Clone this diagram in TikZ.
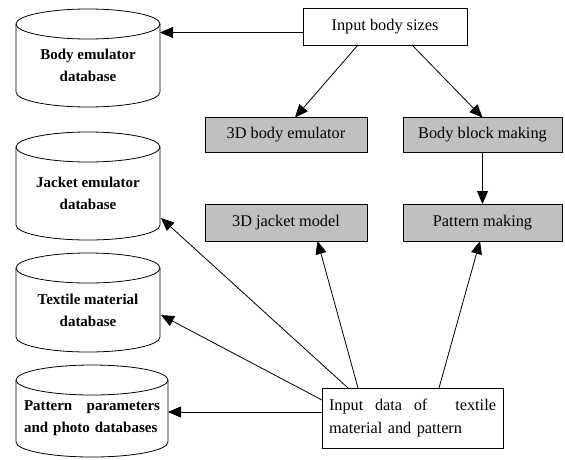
\documentclass[tikz,border=0pt]{standalone}
\usepackage{fontspec}
\setmainfont{Liberation Serif}
\usetikzlibrary{arrows.meta}
\definecolor{boxgray}{RGB}{192, 192, 192}

\tikzset{
  box/.style={draw, fill=white, inner sep=0pt, outer sep=0pt,
    font=\fontsize{16.3}{22.5}\selectfont},
  graybox/.style={box, fill=boxgray},
  dbbox/.style={inner sep=0pt, outer sep=0pt},
  dbtext/.style={font=\bfseries\fontsize{15}{22}\selectfont, align=center},
  flow/.style={-{Triangle[length=13pt,width=11pt]}}
}

\begin{document}
\begin{tikzpicture}[x=1pt, y=-1pt, line width=0.8pt]
    \useasboundingbox (0,0) rectangle (565,459);

    % cajas de la derecha
    \node[box, minimum width=164pt, minimum height=37pt] (sizes) at (385,26.5) {Input body sizes};
    \node[graybox, minimum width=162pt, minimum height=35pt] (bodyemu) at (286,135) {3D body emulator};
    \node[graybox, minimum width=159pt, minimum height=35pt] (blockmaking) at (482.5,135) {Body block making};
    \node[graybox, minimum width=162pt, minimum height=37pt] (jacketmodel) at (286,222.5) {3D jacket model};
    \node[graybox, minimum width=159pt, minimum height=37pt] (patternmaking) at (482.5,222.5) {Pattern making};
    \node[box, minimum width=181pt, minimum height=60pt, text width=167pt, align=left] (inputdata) at (412.5,418)
        {Input\hfill data\hfill of\hfill\hspace{1em}textile\\material and pattern};

    % bases de datos (cilindros)
    \node[dbbox, minimum width=144pt, minimum height=68pt] (bodydb) at (88,58) {};
    \node[dbbox, minimum width=144pt, minimum height=78pt] (jacketdb) at (88,186) {};
    \node[dbbox, minimum width=144pt, minimum height=69pt] (textiledb) at (88,302.5) {};
    \node[dbbox, minimum width=152pt, minimum height=62pt] (patterndb) at (92,411) {};

    \foreach \db/\r in {bodydb/72, jacketdb/72, textiledb/72, patterndb/76} {
        \draw (\db.north west) -- (\db.south west)
            arc[start angle=180, end angle=360, x radius=\r pt, y radius=15pt] -- (\db.north east);
        \draw (\db.north) ellipse [x radius=\r pt, y radius=15pt];
    }

    \node[dbtext] (bodydbtext) at ([yshift=-7.5pt]bodydb.center) {Body emulator\\database};
    \node[dbtext] (jacketdbtext) at ([yshift=-7.5pt]jacketdb.center) {Jacket emulator\\database};
    \node[dbtext] (textiledbtext) at ([yshift=-7.5pt]textiledb.center) {Textile material\\database};
    \node[dbtext, text width=136pt, align=left] (patterndbtext) at ([yshift=-7.5pt]patterndb.center)
        {Pattern\hfill parameters\\and photo databases};

    % flechas desde Input body sizes
    \coordinate (s1) at ([yshift=-6pt]sizes.west);
    \draw[flow] (s1) -- (s1 -| bodydb.east);
    \draw[flow] ([xshift=-27pt]sizes.south) -- ([xshift=9pt]bodyemu.north);
    \draw[flow] ([xshift=27pt]sizes.south) -- (blockmaking.north);
    \draw[flow] (blockmaking.south) -- (patternmaking.north);

    % flechas desde Input data
    \draw[flow] ([xshift=-54.5pt]inputdata.north) -- ([xshift=31.5pt]jacketmodel.south);
    \draw[flow] ([xshift=26.5pt]inputdata.north) -- ([xshift=-2.5pt]patternmaking.south);
    \draw[flow] ([xshift=-64.5pt]inputdata.north) -- ([xshift=1pt, yshift=-32pt]jacketdb.east);
    \draw[flow] ([yshift=18pt]inputdata.west) -- ([xshift=1pt, yshift=-12.5pt]textiledb.east);
    \coordinate (s2) at ([yshift=6pt]inputdata.west);
    \draw[flow] (s2) -- (s2 -| patterndb.east);
\end{tikzpicture}
\end{document}
